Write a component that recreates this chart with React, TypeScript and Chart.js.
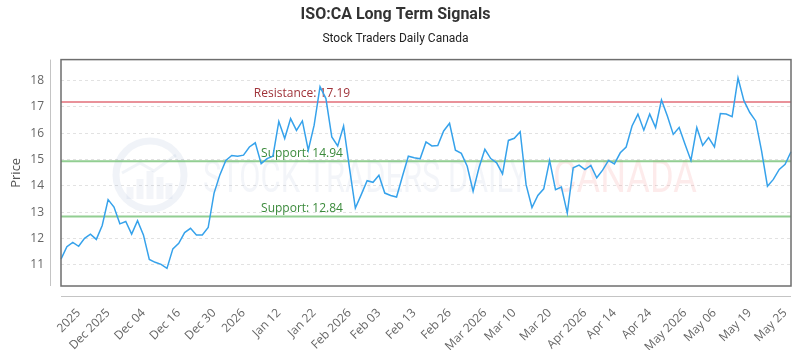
import React, { useEffect, useRef } from "react";
import { Chart, registerables } from "chart.js";

Chart.register(...registerables);

// Closing prices (one per trading session)
const prices = [
  11.22, 11.69, 11.86, 11.71, 12.01, 12.17, 11.97, 12.5, 13.48, 13.2,
  12.56, 12.65, 12.17, 12.68, 12.14, 11.21, 11.1, 11.02, 10.87, 11.61,
  11.82, 12.23, 12.39, 12.14, 12.14, 12.42, 13.73, 14.43, 14.97, 15.16,
  15.13, 15.17, 15.48, 15.64,
  14.85, 15.04, 15.13, 16.45, 15.8, 16.56, 16.11, 16.47, 15.36, 16.31,
  17.77, 17.32, 15.86, 15.52, 16.28, 14.69, 13.16, 13.67, 14.2, 14.14,
  14.41, 13.73, 13.64, 13.58, 14.37, 15.13, 15.07, 15.03,
  15.67, 15.52, 15.54, 16.09, 16.38, 15.36, 15.24, 14.75, 13.8, 14.69,
  15.39, 15.04, 14.88, 14.46, 15.73, 15.81, 16.06, 14.05, 13.18, 13.64,
  13.89, 14.97, 13.86, 13.96, 12.97, 14.69, 14.79, 14.62, 14.78, 14.31,
  14.6,
  14.97, 14.84, 15.26, 15.48, 16.28, 16.73, 16.12, 16.73, 16.22, 17.27,
  16.66, 15.96, 16.22, 15.58, 14.97, 16.22, 15.54, 15.84, 15.48, 16.75,
  16.73, 16.63, 18.1, 17.24, 16.79, 16.47, 15.33, 13.99, 14.25, 14.63,
  14.82, 15.3,
];

// X-axis tick labels and the session each one sits on
const xTickLabels = [
  "2025", "Dec 2025", "Dec 04", "Dec 16", "Dec 30", "2026", "Jan 12", "Jan 22",
  "Feb 2026", "Feb 03", "Feb 13", "Feb 26", "Mar 2026", "Mar 10", "Mar 20",
  "Apr 2026", "Apr 14", "Apr 24", "May 2026", "May 06", "May 19", "May 25",
];
const xTickIndex = [
  3, 8, 14, 20, 26, 31, 37, 43, 49, 54, 60, 66, 72, 77, 83, 89, 94, 100, 106,
  111, 117, 123,
];

const resistanceLevels = [17.19];
const supportLevels = [14.94, 12.84];

const yMin = 10.2;
const yMax = 18.8;

const categories = prices.map((_, i) => {
  const k = xTickIndex.indexOf(i);
  return k >= 0 ? xTickLabels[k] : "";
});

const TICK_FONT = "'Open Sans', sans-serif";

const decorPlugin = {
  id: "decor",
  beforeDatasetsDraw(chart: any) {
    const { ctx, chartArea: a, scales } = chart;
    const ys = scales.y;
    ctx.save();
    ctx.beginPath();
    ctx.rect(a.left, a.top, a.right - a.left, a.bottom - a.top);
    ctx.clip();

    // watermark logo
    const cx = 150, cy = 175, r = 34;
    ctx.strokeStyle = "rgba(120,145,190,0.11)";
    ctx.lineWidth = 7;
    ctx.beginPath();
    ctx.arc(cx, cy, r, 0, Math.PI * 2);
    ctx.stroke();
    ctx.fillStyle = "rgba(120,145,190,0.09)";
    const bars = [[-20, 12], [-10, 20], [0, 28], [10, 22], [19, 16]];
    bars.forEach(([dx, h]) => {
      ctx.fillRect(cx + dx - 3.5, cy + 24 - h, 7, h);
    });
    ctx.strokeStyle = "rgba(120,145,190,0.1)";
    ctx.lineWidth = 3;
    ctx.beginPath();
    ctx.moveTo(cx - 28, cy - 2);
    ctx.lineTo(cx - 10, cy - 12);
    ctx.lineTo(cx + 4, cy - 4);
    ctx.lineTo(cx + 26, cy - 20);
    ctx.stroke();

    // watermark text
    const drawStretched = (text: string, x0: number, x1: number, color: string) => {
      ctx.font = "44px 'Roboto', sans-serif";
      const w = ctx.measureText(text).width;
      ctx.save();
      ctx.translate(x0, 192);
      ctx.scale((x1 - x0) / w, 1);
      ctx.fillStyle = color;
      ctx.textBaseline = "alphabetic";
      ctx.textAlign = "left";
      ctx.fillText(text, 0, 0);
      ctx.restore();
    };
    drawStretched("STOCK TRADERS DAILY", 203, 528, "rgba(90,120,170,0.075)");
    drawStretched("CANADA", 553, 697, "rgba(235,70,70,0.11)");
    ctx.restore();

    // level lines
    ctx.save();
    const labelX = 302;
    const drawLevel = (v: number, line: string, tc: string, text: string) => {
      const y = ys.getPixelForValue(v);
      ctx.strokeStyle = line;
      ctx.lineWidth = 2;
      ctx.beginPath();
      ctx.moveTo(a.left, y);
      ctx.lineTo(a.right, y);
      ctx.stroke();
      ctx.fillStyle = tc;
      ctx.font = "12px " + TICK_FONT;
      ctx.textAlign = "center";
      ctx.textBaseline = "middle";
      ctx.fillText(text, labelX, y - 8);
    };
    resistanceLevels.forEach((v) =>
      drawLevel(v, "rgba(225,110,120,0.75)", "#a0333a", "Resistance: " + v.toFixed(2))
    );
    supportLevels.forEach((v) =>
      drawLevel(v, "rgba(110,190,110,0.75)", "#3b8a3b", "Support: " + v.toFixed(2))
    );
    ctx.restore();
  },
  afterDraw(chart: any) {
    const { ctx, chartArea: a } = chart;
    ctx.save();
    ctx.strokeStyle = "#6e6e6e";
    ctx.lineWidth = 1.5;
    ctx.strokeRect(a.left, a.top, a.right - a.left, a.bottom - a.top);
    ctx.strokeStyle = "#c4c4c4";
    ctx.lineWidth = 1;
    ctx.beginPath();
    ctx.moveTo(a.left - 10.5, a.top);
    ctx.lineTo(a.left - 10.5, a.bottom);
    ctx.moveTo(a.left, a.bottom + 10.5);
    ctx.lineTo(a.right, a.bottom + 10.5);
    ctx.stroke();
    ctx.restore();
  },
};

export default function App() {
  const ref = useRef<HTMLCanvasElement | null>(null);
  useEffect(() => {
    if (!ref.current) return;
    const chart = new Chart(ref.current, {
      type: "line",
      data: {
        labels: categories,
        datasets: [
          {
            label: "ISO:CA",
            data: prices,
            borderColor: "rgb(54,162,235)",
            backgroundColor: "rgb(54,162,235)",
            borderWidth: 1.5,
            pointRadius: 0,
            tension: 0,
            fill: false,
          },
        ],
      },
      options: {
        animation: false,
        responsive: true,
        maintainAspectRatio: false,
        layout: { padding: { top: 0, left: 0, right: 9, bottom: 0 } },
        plugins: {
          legend: { display: false },
          tooltip: { enabled: false },
          title: {
            display: true,
            text: "ISO:CA Long Term Signals",
            color: "#333",
            font: { family: "'Roboto', sans-serif", size: 16, weight: "bold" },
            padding: { top: 5, bottom: 8 },
          },
          subtitle: {
            display: true,
            text: "Stock Traders Daily Canada",
            color: "#222",
            font: { family: "'Roboto', sans-serif", size: 12 },
            padding: { top: 0, bottom: 13 },
          },
        },
        scales: {
          x: {
            type: "category",
            offset: false,
            grid: { display: false, drawTicks: false },
            border: { display: false },
            afterBuildTicks: (s: any) => {
              s.ticks = xTickIndex.map((v) => ({ value: v }));
            },
            afterFit: (s: any) => {
              s.height = 64;
              s.paddingLeft = 0;
              s.paddingRight = 0;
            },
            ticks: {
              autoSkip: false,
              minRotation: 45,
              maxRotation: 45,
              padding: 20,
              color: "#666",
              font: { family: TICK_FONT, size: 12 },
            },
          },
          y: {
            min: yMin,
            max: yMax,
            afterBuildTicks: (s: any) => {
              s.ticks = s.ticks.filter((t: any) => Number.isInteger(t.value));
            },
            afterFit: (s: any) => {
              s.width = 61;
            },
            grid: { color: "#e2e2e2", drawTicks: false },
            border: { display: false, dash: [3, 3] },
            title: {
              display: true,
              text: "Price",
              color: "#555",
              font: { family: TICK_FONT, size: 13 },
              padding: { top: 8, bottom: 0 },
            },
            ticks: {
              stepSize: 1,
              padding: 17,
              color: "#666",
              font: { family: TICK_FONT, size: 12 },
            },
          },
        },
      },
      plugins: [decorPlugin],
    });
    return () => chart.destroy();
  }, []);
  return (
    <div style={{ position: "fixed", left: 0, top: 0, width: 800, height: 350 }}>
      <canvas ref={ref} />
    </div>
  );
}
